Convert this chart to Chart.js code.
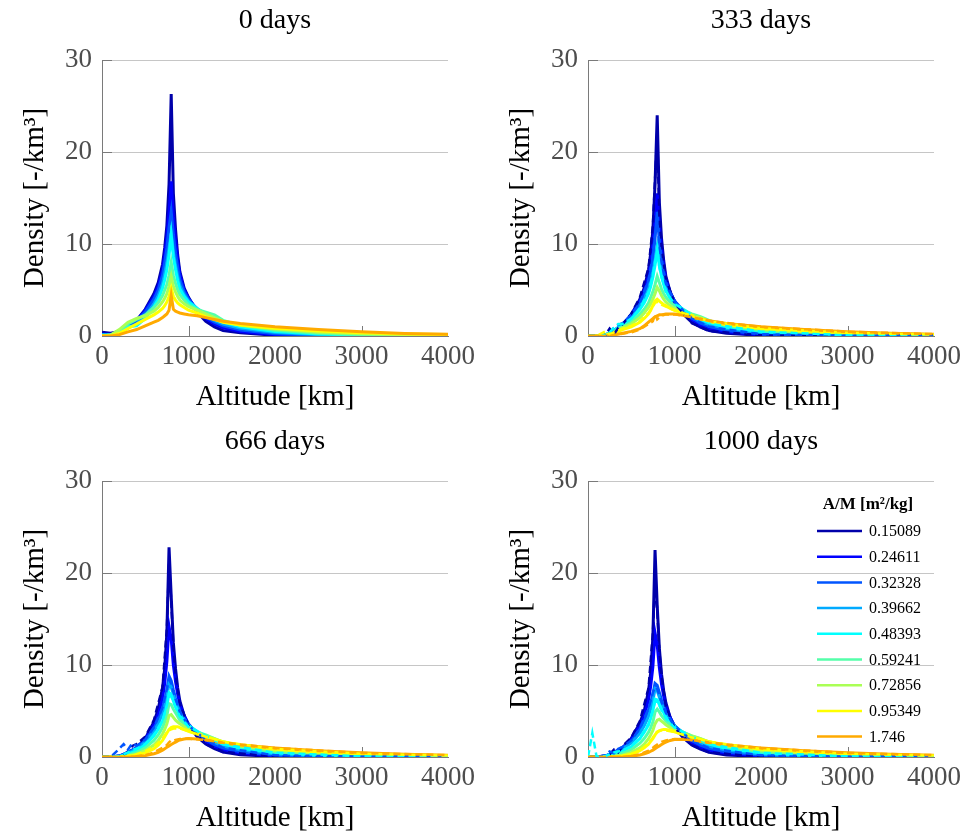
<!DOCTYPE html>
<html lang="en">
<head>
<meta charset="UTF-8">
<title>Density vs altitude per A/M</title>
<script src="https://cdn.jsdelivr.net/npm/chart.js"></script>
<style>
  body { margin: 0; background: #fff; overflow: hidden; }
  .panel { position: absolute; }
</style>
</head>
<body>
<canvas id="p0" class="panel" width="481" height="417" style="left:0;top:0"></canvas>
<canvas id="p1" class="panel" width="481" height="417" style="left:486px;top:0"></canvas>
<canvas id="p2" class="panel" width="481" height="417" style="left:0;top:421px"></canvas>
<canvas id="p3" class="panel" width="481" height="417" style="left:486px;top:421px"></canvas>
<script>
// altitude grid [km] of the solid curves, and of the dashed ones
const altitude = [0,100,200,300,400,500,600,650,700,725,750,775,800,825,850,875,900,950,1000,1100,1200,1300,1400,1600,2000,2500,3000,3500,4000];
const altitudeDashed = [0,50,100,200,250,300,350,400,500,600,700,750,775,800,825,850,900,1000,1200,1400,2000,3000,4000];
const areaToMass = ['0.15089','0.24611','0.32328','0.39662','0.48393','0.59241','0.72856','0.95349','1.746'];
const panelTitles = ['0 days','333 days','666 days','1000 days'];
const xTicks = [0,1000,2000,3000,4000];
const yTicks = [0,10,20,30];
// which A/M classes also have a dashed curve
const dashedIndex = [0,2,4,7,8];

// density [-/km^3], one row per A/M
const density0 = [
  [0.4,0.3,0.5,1.0,1.7,2.9,4.6, 5.8,7.8,9.6,12,16.5,26.3,15.5,11.6,8.8,7.0, 5.2,4.2, 2.6,1.6,1.0,0.6, 0.35,0.08, 0.02,0.01,0,0],
  [0.2,0.2,0.4,1.0,1.7,2.8,4.3, 5.4,7.2,8.8,10.8,13.5,16.8,13,10.4,8.3,6.7, 5.0,4.1, 2.8,1.9,1.3,0.9, 0.5,0.15, 0.05,0.02,0.01,0],
  [0.1,0.1,0.4,1.0,1.6,2.6,4.0, 5.0,6.6,8.0,9.6,11.8,13.5,11,9.0,7.5,6.1, 4.8,4.0, 2.9,2.1,1.5,1.1, 0.65,0.25, 0.08,0.03,0.01,0],
  [0.1,0.1,0.4,0.9,1.3,2.2,3.5, 4.4,5.7,6.8,8.0,9.6,11.2,9.2,7.7,6.5,5.5, 4.5,3.8, 3.0,2.3,1.7,1.3, 0.85,0.38, 0.15,0.06,0.03,0.01],
  [0.1,0.1,0.5,1.0,1.1,1.9,3.2, 4.0,5.2,6.1,7.2,8.8,11.0,8.6,7.2,6.0,5.1, 4.3,3.7, 3.0,2.4,1.9,1.5, 1.0,0.5, 0.22,0.1,0.05,0.02],
  [0,0.1,0.6,1.3,1.8,2.3,3.1, 3.6,4.4,5.0,5.6,6.6,8.0,6.6,5.7,5.0,4.5, 3.9,3.4, 2.9,2.6,2.3,1.7, 1.15,0.62, 0.3,0.15,0.08,0.04],
  [0,0.1,0.7,1.5,1.9,2.2,2.7, 3.1,3.7,4.1,4.6,5.4,6.5,5.4,4.8,4.3,3.9, 3.5,3.2, 2.8,2.4,2.0,1.6, 1.2,0.75, 0.42,0.24,0.13,0.08],
  [0,0,0.3,0.8,1.3,1.8,2.3, 2.6,3.0,3.3,3.7,4.3,5.2,4.3,3.9,3.6,3.4, 3.1,2.8, 2.5,2.1,1.8,1.5, 1.2,0.85, 0.55,0.35,0.22,0.15],
  [0,0,0.15,0.45,0.7,1.1,1.5, 1.7,2.0,2.2,2.4,2.8,4.4,2.9,2.7,2.6,2.5, 2.4,2.3, 2.2,2.0,1.8,1.6, 1.35,1.0, 0.7,0.45,0.28,0.2]
];
const density333 = [
  [0,0,0.1,0.5,1.2,2.3,4.0, 5.2,7.2,9.0,11.5,16.5,24,14.5,10.6,8.2,6.5, 4.8,3.8, 2.4,1.5,0.95,0.6, 0.3,0.07, 0.02,0.01,0,0],
  [0,0,0.1,0.5,1.2,2.3,3.8, 4.9,6.5,8.0,10,12.5,15.5,12,9.5,7.6,6.2, 4.7,3.8, 2.6,1.8,1.2,0.85, 0.45,0.13, 0.04,0.02,0.01,0],
  [0,0,0.1,0.6,1.2,2.2,3.5, 4.5,5.9,7.0,8.5,10.6,13.5,10.2,8.3,6.9,5.8, 4.6,3.8, 2.8,2.0,1.4,1.05, 0.6,0.22, 0.07,0.03,0.01,0],
  [0,0,0.1,0.6,1.3,2.0,3.2, 4.0,5.1,6.0,7.0,8.3,9.8,8.2,7.0,6.0,5.2, 4.3,3.6, 2.8,2.2,1.6,1.25, 0.8,0.35, 0.13,0.05,0.02,0.01],
  [0,0,0.1,0.6,1.2,1.8,2.9, 3.6,4.6,5.4,6.4,7.7,9.3,7.6,6.5,5.6,4.9, 4.1,3.5, 2.9,2.3,1.8,1.45, 0.95,0.48, 0.2,0.09,0.04,0.02],
  [0,0,0.1,0.5,1.0,1.5,2.4, 2.9,3.6,4.2,4.8,5.6,6.5,5.8,5.1,4.6,4.2, 3.7,3.3, 2.8,2.4,2.1,1.7, 1.1,0.6, 0.28,0.14,0.07,0.04],
  [0,0,0.1,0.4,0.9,1.3,2.0, 2.5,3.1,3.5,4.0,4.6,5.3,4.9,4.4,4.0,3.7, 3.3,3.0, 2.7,2.3,2.0,1.6, 1.2,0.72, 0.4,0.22,0.12,0.07],
  [0,0,0.05,0.3,0.7,1.0,1.5, 1.9,2.4,2.8,3.3,3.8,4.0,3.8,3.6,3.4,3.3, 3.0,2.8, 2.5,2.2,1.9,1.6, 1.25,0.85, 0.55,0.35,0.22,0.15],
  [0,0,0,0.1,0.3,0.5,0.8, 1.1,1.5,1.7,1.9,2.1,2.2,2.3,2.3,2.35,2.4, 2.4,2.4, 2.25,2.05,1.85,1.65, 1.35,1.0, 0.7,0.47,0.3,0.2]
];
const density666 = [
  [0,0,0.1,0.4,1.0,2.0,3.8, 5.2,7.5,9.6,13.5,22.8,17.5,12.4,9.6,7.5,6.1, 4.5,3.5, 2.2,1.4,0.9,0.55, 0.25,0.06, 0.02,0.01,0,0],
  [0,0,0.1,0.5,1.0,1.9,3.5, 4.6,6.4,8.0,10.4,14.2,12.8,10,8.2,6.8,5.7, 4.5,3.6, 2.5,1.7,1.15,0.8, 0.42,0.12, 0.04,0.02,0.01,0],
  [0,0,0.1,0.5,1.0,1.8,3.1, 4.0,5.3,6.2,7.3,8.8,8.3,7.3,6.4,5.7,5.0, 4.2,3.5, 2.6,1.9,1.35,1.0, 0.58,0.2, 0.07,0.03,0.01,0],
  [0,0,0.05,0.4,0.9,1.6,2.8, 3.6,4.7,5.5,6.5,8.0,7.6,6.8,6.0,5.4,4.8, 4.1,3.5, 2.7,2.1,1.6,1.2, 0.78,0.33, 0.12,0.05,0.02,0.01],
  [0,0,0.05,0.3,0.7,1.3,2.3, 3.0,3.9,4.6,5.5,7.0,6.8,6.1,5.5,5.0,4.5, 3.9,3.4, 2.8,2.3,1.8,1.4, 0.95,0.46, 0.19,0.08,0.04,0.02],
  [0,0,0,0.2,0.5,1.0,1.8, 2.4,3.2,3.8,4.5,5.8,5.7,5.2,4.8,4.4,4.0, 3.6,3.2, 2.7,2.4,2.0,1.6, 1.1,0.58, 0.27,0.13,0.07,0.04],
  [0,0,0,0.1,0.3,0.7,1.3, 1.8,2.5,3.0,3.6,4.5,4.6,4.3,4.0,3.8,3.6, 3.3,3.0, 2.6,2.3,2.0,1.65, 1.2,0.72, 0.4,0.22,0.12,0.07],
  [0,0,0,0.05,0.2,0.45,0.9, 1.3,1.8,2.2,2.6,3.0,3.2,3.3,3.3,3.3,3.2, 3.0,2.8, 2.5,2.2,1.9,1.65, 1.3,0.88, 0.55,0.35,0.22,0.15],
  [0,0,0,0,0.05,0.15,0.35, 0.5,0.75,0.9,1.05,1.2,1.35,1.5,1.62,1.75,1.85, 1.95,2.0, 1.95,1.85,1.7,1.55, 1.3,0.98, 0.68,0.45,0.3,0.2]
];
const density1000 = [
  [0,0,0.1,0.4,1.0,2.0,3.7, 5.0,7.2,9.2,13,22.5,16.5,11.8,9.0,7.2,5.9, 4.3,3.3, 2.1,1.3,0.85,0.5, 0.22,0.05, 0.02,0.01,0,0],
  [0,0,0.1,0.5,1.0,1.9,3.4, 4.5,6.2,7.7,9.8,13.5,12.2,9.7,7.9,6.6,5.5, 4.3,3.4, 2.4,1.6,1.1,0.75, 0.4,0.11, 0.04,0.02,0.01,0],
  [0,0,0.1,0.5,1.0,1.7,3.0, 3.9,5.1,5.9,6.8,8.0,7.8,7.0,6.2,5.5,4.9, 4.1,3.4, 2.5,1.8,1.3,0.95, 0.55,0.19, 0.06,0.03,0.01,0],
  [0,0,0.05,0.4,0.9,1.5,2.6, 3.4,4.4,5.2,6.1,7.4,7.2,6.5,5.8,5.2,4.7, 4.0,3.4, 2.6,2.0,1.55,1.15, 0.75,0.3, 0.11,0.05,0.02,0.01],
  [0,0,0.05,0.3,0.6,1.1,2.0, 2.7,3.5,4.2,5.0,6.3,6.2,5.7,5.2,4.8,4.3, 3.8,3.3, 2.7,2.2,1.75,1.4, 0.92,0.45, 0.18,0.08,0.04,0.02],
  [0,0,0,0.15,0.4,0.8,1.5, 2.0,2.7,3.2,3.8,4.9,5.2,4.9,4.5,4.2,3.9, 3.5,3.1, 2.7,2.3,2.0,1.6, 1.1,0.57, 0.26,0.13,0.07,0.04],
  [0,0,0,0.05,0.2,0.5,1.0, 1.4,2.0,2.4,2.9,3.6,4.0,4.1,3.9,3.7,3.5, 3.2,3.0, 2.6,2.3,2.0,1.65, 1.2,0.72, 0.4,0.22,0.12,0.07],
  [0,0,0,0,0.1,0.3,0.7, 1.0,1.4,1.7,2.0,2.4,2.7,2.85,2.95,3.0,3.0, 2.9,2.75, 2.45,2.15,1.9,1.65, 1.3,0.88, 0.56,0.35,0.22,0.15],
  [0,0,0,0,0.02,0.08,0.22, 0.35,0.5,0.62,0.75,0.9,1.05,1.2,1.35,1.5,1.62, 1.8,1.9, 1.92,1.85,1.7,1.55, 1.3,0.98, 0.68,0.45,0.3,0.2]
];

// dashed curves, rows follow dashedIndex
const density0Dashed = [];
const density333Dashed = [
  [0,0,0,0.1,0.8,0.2,0.9,1.3,2.4,4.2,7.4,12,17,22,13,9.8,6.2,3.6,1.4,0.55,0.07,0.01,0],
  [0,0,0,0.1,0.3,0.9,1.2,1.4,2.3,3.6,6.1,8.8,11,12.5,10,8.1,5.7,3.7,1.9,1.0,0.2,0.03,0],
  [0,0,0,0.1,0.4,0.9,1.3,1.3,1.9,3.0,4.8,6.6,8.0,9.0,7.5,6.4,4.8,3.5,2.3,1.4,0.47,0.09,0.02],
  [0,0,0,0.5,0.2,0.4,0.6,0.8,1.1,1.6,2.5,3.2,3.6,3.7,3.6,3.4,3.2,2.8,2.2,1.6,0.85,0.35,0.15],
  [0,0,0,0,0,0.1,0.2,0.25,0.4,0.7,1.3,1.6,2.4,1.8,2.0,2.2,2.35,2.35,2.05,1.65,1.0,0.47,0.2]
];
const density666Dashed = [
  [0,0,0,0.1,0.2,0.6,1.2,1.4,2.2,4.0,7.6,14,21,17,12,9,5.8,3.4,1.4,0.55,0.06,0.01,0],
  [0,0,0,0.9,1.4,0.8,1.5,1.2,1.9,3.2,5.4,7.4,8.4,8.0,7.1,6.3,4.9,3.4,1.9,1.0,0.2,0.03,0],
  [0,0,0,0.1,0.3,0.5,0.8,0.9,1.4,2.4,4.0,5.6,6.6,6.6,6.0,5.4,4.4,3.3,2.3,1.4,0.46,0.08,0.02],
  [0,0,0,0,0,0.1,0.2,0.3,0.6,1.1,2.0,2.7,2.9,3.0,3.1,3.1,3.1,2.8,2.2,1.65,0.88,0.35,0.15],
  [0,0,0,0,0,0,0.03,0.08,0.2,0.5,1.0,1.3,1.6,1.8,1.75,1.85,1.95,2.0,1.85,1.55,0.98,0.45,0.2]
];
const density1000Dashed = [
  [0,0,0,0.1,0.3,0.8,0.5,1.2,2.1,3.9,7.5,13.5,19,16,11.5,8.8,5.5,3.2,1.3,0.5,0.05,0.01,0],
  [0,0,0,0.2,0.6,0.4,0.9,1.1,1.8,3.1,5.3,7.0,7.6,7.4,6.7,6.0,4.8,3.4,1.8,0.95,0.19,0.03,0],
  [0,2.6,0,0.1,0.3,0.5,0.6,0.7,1.2,2.1,3.6,5.0,6.0,6.0,5.6,5.1,4.2,3.2,2.2,1.4,0.45,0.08,0.02],
  [0,0,0,0,0,0,0.05,0.1,0.3,0.7,1.5,2.1,2.5,2.75,2.85,2.9,2.9,2.7,2.15,1.65,0.88,0.35,0.15],
  [0,0,0,0,0,0,0,0.02,0.1,0.3,0.7,1.0,1.2,1.35,1.5,1.65,1.8,1.95,1.85,1.55,0.98,0.45,0.2]
];

// first nine colours of MATLAB jet(10)
const lineColors = ['#0000aa','#0000ff','#0055ff','#00aaff','#00ffff','#55ffaa','#aaff55','#ffff00','#ffaa00'];
const serif = '"Liberation Serif", "Times New Roman", serif';

function toPoints(xs, ys) {
  return xs.map((x, i) => ({ x: x, y: ys[i] }));
}

// inward ticks, panel title and (optionally) the legend
const panelDecor = {
  id: 'panelDecor',
  beforeDatasetsDraw(chart) {
    const { ctx, chartArea: a, scales: { x, y } } = chart;
    ctx.save();
    ctx.strokeStyle = '#7a7a7a';
    ctx.lineWidth = 1;
    ctx.beginPath();
    xTicks.slice(1, -1).forEach(v => {
      const px = Math.round(x.getPixelForValue(v)) + 0.5;
      ctx.moveTo(px, a.bottom);
      ctx.lineTo(px, a.bottom - 10);
    });
    yTicks.slice(1).forEach(v => {
      const py = Math.round(y.getPixelForValue(v)) + 0.5;
      ctx.moveTo(a.left, py);
      ctx.lineTo(a.left + 10, py);
    });
    ctx.stroke();
    ctx.restore();
  },
  afterDraw(chart, args, opts) {
    const { ctx, chartArea: a } = chart;
    ctx.save();
    ctx.fillStyle = '#000';
    ctx.font = '28px ' + serif;
    ctx.textAlign = 'center';
    ctx.textBaseline = 'alphabetic';
    ctx.fillText(opts.title, (a.left + a.right) / 2, 28);

    if (opts.legend) {
      ctx.font = 'bold 17px ' + serif;
      ctx.fillText('A/M [m\u00B2/kg]', a.right - 66, a.top + 28);
      ctx.font = '16px ' + serif;
      ctx.textAlign = 'left';
      ctx.textBaseline = 'middle';
      areaToMass.forEach((label, i) => {
        const ly = a.top + 50 + i * 25.7;
        ctx.strokeStyle = lineColors[i];
        ctx.lineWidth = 2.5;
        ctx.beginPath();
        ctx.moveTo(a.right - 117, ly);
        ctx.lineTo(a.right - 72, ly);
        ctx.stroke();
        ctx.fillStyle = '#000';
        ctx.fillText(label, a.right - 65, ly + 1);
      });
    }
    ctx.restore();
  }
};

function makePanel(id, title, rows, dashedRows, showLegend) {
  const datasets = rows.map((row, i) => ({
    label: areaToMass[i],
    data: toPoints(altitude, row),
    borderColor: lineColors[i],
    borderWidth: 3,
    pointRadius: 0,
    order: 40 - i
  }));
  dashedRows.forEach((row, k) => {
    const i = dashedIndex[k];
    datasets.push({
      label: areaToMass[i] + ' dashed',
      data: toPoints(altitudeDashed, row),
      borderColor: lineColors[i],
      borderWidth: 2.5,
      borderDash: [7, 4],
      pointRadius: 0,
      order: 20 - i
    });
  });

  new Chart(document.getElementById(id), {
    type: 'line',
    data: { datasets: datasets },
    options: {
      responsive: false,
      animation: false,
      layout: { padding: { top: 60, right: 33, bottom: 0, left: 0 } },
      plugins: {
        legend: { display: false },
        tooltip: { enabled: false },
        panelDecor: { title: title, legend: showLegend }
      },
      scales: {
        x: {
          type: 'linear',
          min: 0,
          max: 4000,
          afterBuildTicks: s => { s.ticks = xTicks.map(v => ({ value: v })); },
          afterFit: s => { s.height = 81; },
          ticks: { color: '#4d4d4d', font: { family: serif, size: 27 }, padding: 5, maxRotation: 0, autoSkip: false, callback: v => String(v) },
          grid: { display: false, drawTicks: false },
          border: { display: true, color: '#7a7a7a' },
          title: { display: true, text: 'Altitude [km]', color: '#000', font: { family: serif, size: 29 }, padding: { top: 0, bottom: 2 } }
        },
        y: {
          min: 0,
          max: 30,
          afterBuildTicks: s => { s.ticks = yTicks.map(v => ({ value: v })); },
          afterFit: s => { s.width = 102; },
          ticks: { color: '#4d4d4d', font: { family: serif, size: 27 }, padding: 10, callback: v => String(v) },
          grid: { color: c => c.tick && c.tick.value === 0 ? 'rgba(0,0,0,0)' : '#c6c6c6', drawTicks: false },
          border: { display: true, color: '#7a7a7a' },
          title: { display: true, text: 'Density [-/km\u00B3]', color: '#000', font: { family: serif, size: 29 }, padding: { top: 18, bottom: 0 } }
        }
      }
    },
    plugins: [panelDecor]
  });
}

makePanel('p0', panelTitles[0], density0, density0Dashed, false);
makePanel('p1', panelTitles[1], density333, density333Dashed, false);
makePanel('p2', panelTitles[2], density666, density666Dashed, false);
makePanel('p3', panelTitles[3], density1000, density1000Dashed, true);
</script>
</body>
</html>
